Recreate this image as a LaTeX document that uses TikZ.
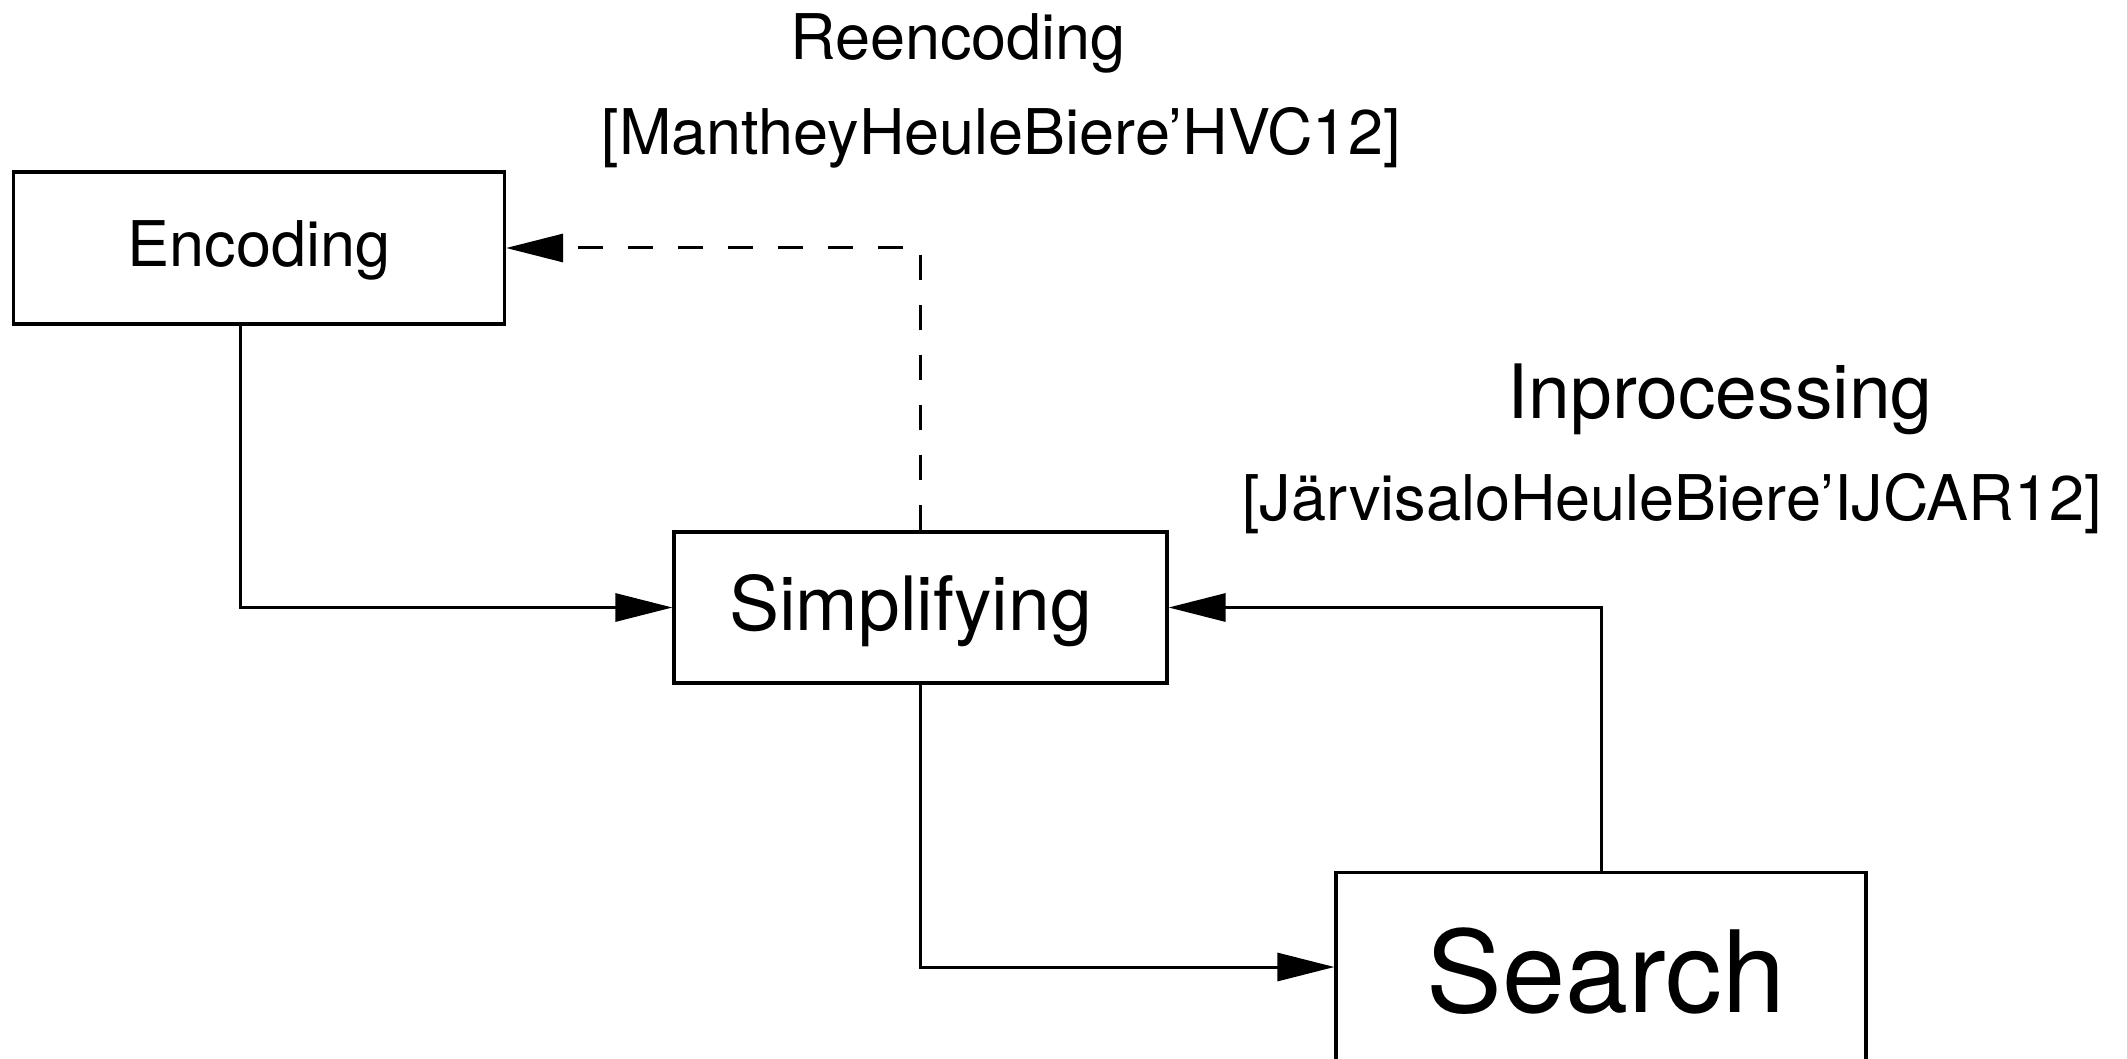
\documentclass[tikz,border=0pt]{standalone}
\usepackage{fontspec}
\setmainfont{TeX Gyre Heros}
\usetikzlibrary{arrows.meta}
\begin{document}
\begin{tikzpicture}[x=1pt,y=-1pt,
  box/.style={draw, line width=3.2pt, rectangle, inner sep=0pt, anchor=center},
  conn/.style={line width=3pt, -{Triangle[length=57pt,width=28pt]}},
  dashconn/.style={conn, dash pattern=on 25pt off 25pt},
  lbl/.style={inner sep=0pt, anchor=base},
  fs/.style={font=\fontsize{63}{75}\selectfont},
  fm/.style={font=\fontsize{75}{90}\selectfont},
  fl/.style={font=\fontsize{113.5}{136}\selectfont}]
\useasboundingbox (0,0) rectangle (2127,1059);
\clip (0,0) rectangle (2127,1059);
\fill[white] (0,0) rectangle (2127,1059);

\node[box, fs, minimum width=491pt, minimum height=152pt, text height=50pt, text depth=12pt] (enc) at (259,248) {Encoding};
\node[box, fm, minimum width=493pt, minimum height=151pt, text height=58pt, text depth=13pt] (simp) at (920.5,607.5) {Simplifying\kern20pt};
\node[box, fl, minimum width=530pt, minimum height=189pt, text height=110pt, text depth=20pt] (search) at (1601,967) {\kern10pt Search};

\node[lbl, fs] (reen) at (958,60) {Reencoding};
\node[lbl, fs] (ref1) at (1001,155) {[MantheyHeuleBiere’HVC12]};
\node[lbl, fm] (inp) at (1720,418) {Inprocessing};
\node[lbl, fs] (ref2) at (1672,520) {[JärvisaloHeuleBiere’IJCAR12]};

\draw[conn] ([xshift=-19pt]enc.south) |- (simp.west);
\draw[conn] (simp.south) |- (search.west);
\draw[conn] (search.north) |- (simp.east);
\draw[dashconn] (simp.north) |- (enc.east);
\end{tikzpicture}
\end{document}
